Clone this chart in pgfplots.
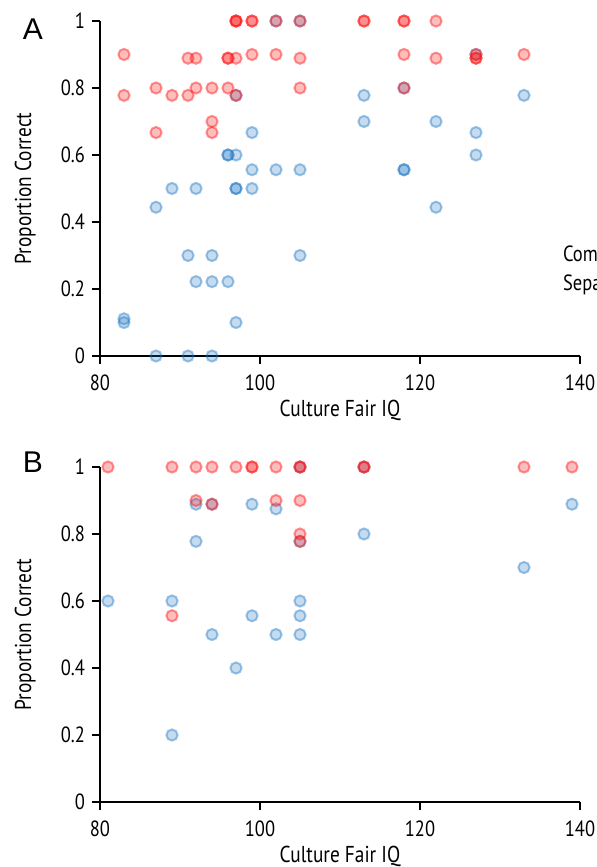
\documentclass[border=0pt]{standalone}
\usepackage{fontspec}
\setmainfont{PT Sans}[FakeStretch=0.84]
\newfontfamily\panelfont{Liberation Sans}
\usepackage{pgfplots}
\pgfplotsset{compat=1.18}

\definecolor{cred}{RGB}{255,20,20}
\definecolor{cblue}{RGB}{25,115,195}

\pgfplotsset{
  panel/.style={
    width=240pt, height=167.5pt, scale only axis,
    xmin=80, xmax=140, ymin=0, ymax=1,
    xtick={80,100,120,140}, ytick={0,0.2,...,1},
    axis lines*=left, axis line style={line width=1.2pt,-},
    tick align=outside, major tick length=4pt,
    tick style={line width=1pt,black},
    xtick pos=bottom, ytick pos=left,
    /pgf/number format/assume math mode=true,
    ticklabel style={font=\fontsize{11}{13}\selectfont},
    label style={font=\fontsize{11.5}{13}\selectfont},
    xlabel={Culture Fair IQ}, ylabel={Proportion Correct},
    xlabel style={at={(axis description cs:0.5,-0.161)},anchor=center},
    ylabel style={at={(axis description cs:-0.156,0.5)},anchor=center},
    xticklabel style={yshift=-2pt},
    clip=false,
  },
  redm/.style={only marks, mark=*, mark size=2.8pt,
    mark options={line width=1pt, draw=cred, fill=cred, draw opacity=0.45, fill opacity=0.28}},
  bluem/.style={only marks, mark=*, mark size=2.8pt,
    mark options={line width=1pt, draw=cblue, fill=cblue, draw opacity=0.42, fill opacity=0.25}},
}

\begin{document}
\begin{tikzpicture}
\begin{axis}[panel]
  \addplot[bluem] coordinates {
    (102,1) (105,1) (127,0.9) (97,0.778) (118,0.8)
    (113,0.778) (133,0.778) (113,0.7) (122,0.7) (99,0.667) (127,0.667) (127,0.6)
    (96,0.6) (96,0.6) (97,0.6)
    (99,0.556) (102,0.556) (105,0.556) (118,0.556) (118,0.556)
    (89,0.5) (92,0.5) (97,0.5) (97,0.5) (99,0.5)
    (87,0.444) (122,0.444)
    (91,0.3) (94,0.3) (105,0.3)
    (92,0.222) (94,0.222) (96,0.222)
    (83,0.111) (83,0.1) (97,0.1)
    (87,0) (91,0) (94,0)
  };
  \addplot[redm] coordinates {
    (97,1) (97,1) (97,1) (99,1) (99,1) (102,1) (105,1) (113,1) (113,1) (118,1) (118,1) (122,1)
    (83,0.9) (91,0.889) (92,0.889) (96,0.889) (96,0.889) (97,0.889) (99,0.9) (102,0.9)
    (105,0.889) (118,0.9) (122,0.889) (127,0.9) (127,0.889) (127,0.889) (133,0.9)
    (83,0.778) (87,0.8) (89,0.778) (91,0.778) (92,0.8) (94,0.8) (96,0.8) (97,0.778)
    (105,0.8) (118,0.8)
    (94,0.7) (87,0.667) (94,0.667)
  };
  \node[anchor=west,font=\fontsize{11}{13}\selectfont] at (axis cs:137.0,0.304) {Combined};
  \node[anchor=west,font=\fontsize{11}{13}\selectfont] at (axis cs:137.0,0.212) {Separate};
  \node[font=\panelfont\fontsize{15}{17}\selectfont] at (axis description cs:-0.14,0.975) {A};
  \coordinate (TR) at (axis description cs:0,1);
\end{axis}
\begin{axis}[panel, at={(0,-223pt)}]
  \addplot[bluem] coordinates {
    (105,1) (113,1) (92,0.889) (94,0.889) (99,0.889) (102,0.875) (139,0.889)
    (92,0.778) (105,0.778) (113,0.8) (133,0.7) (81,0.6) (89,0.6) (105,0.6)
    (99,0.556) (105,0.556) (94,0.5) (102,0.5) (105,0.5) (97,0.4) (89,0.2)
  };
  \addplot[redm] coordinates {
    (81,1) (89,1) (92,1) (94,1) (97,1) (99,1) (99,1) (102,1) (105,1) (105,1)
    (113,1) (113,1) (133,1) (139,1)
    (92,0.9) (94,0.889) (102,0.9) (105,0.9) (105,0.8) (105,0.778) (89,0.556)
  };
  \node[font=\panelfont\fontsize{15}{17}\selectfont] at (axis description cs:-0.14,1.015) {B};
  \coordinate (BL) at (axis description cs:0,0);
\end{axis}
\pgfresetboundingbox
\path[use as bounding box] ([xshift=-50pt,yshift=-32.5pt]BL) rectangle ([xshift=248.5pt,yshift=10.5pt]TR);
\end{tikzpicture}
\end{document}
